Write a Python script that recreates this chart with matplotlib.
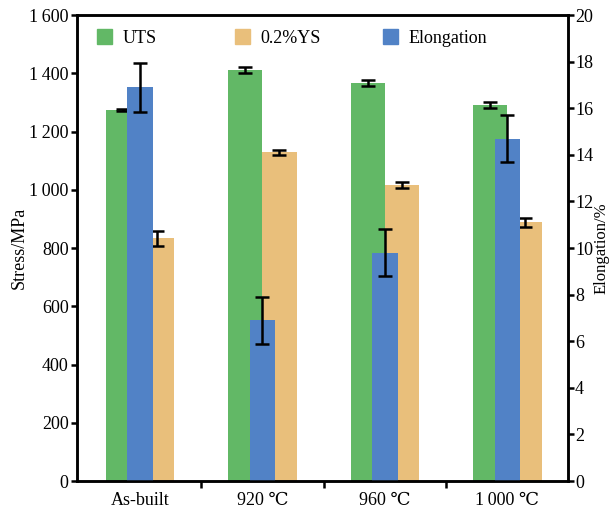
import matplotlib
matplotlib.use("Agg")
import matplotlib.pyplot as plt
import matplotlib.ticker as ticker
from matplotlib.patches import Patch
import numpy as np

### Data ###
groups = ["As-built", "920 \u2103", "960 \u2103", "1\u2009000 \u2103"]
uts = [1275, 1410, 1368, 1290]
uts_err = [4, 10, 10, 10]
ys = [833, 1128, 1017, 888]
ys_err = [27, 10, 10, 15]
elong = [16.9, 6.9, 9.8, 14.7]
elong_err = [1.05, 1.0, 1.0, 1.0]
legend_labels = ["UTS", "0.2%YS", "Elongation"]

green = "#62b866"
orange = "#e9bf7b"
blue = "#5182c6"

plt.rcParams["font.family"] = ["Liberation Serif", "DejaVu Serif"]
plt.rcParams["font.size"] = 13

### Plotting ###
fig = plt.figure(figsize=(6.13, 5.11), dpi=100)
ax = fig.add_axes([0.1256, 0.0587, 0.801, 0.9119])
ax2 = ax.twinx()

x = np.arange(len(groups))
w = 0.278
wb = 0.21
ekw = dict(ecolor="black", elinewidth=1.8, capsize=4.8, capthick=1.8)

ax.bar(x - w / 2, uts, w, color=green, yerr=uts_err, error_kw=ekw)
ax.bar(x + w / 2, ys, w, color=orange, yerr=ys_err, error_kw=ekw)
ax2.bar(x, elong, wb, color=blue, yerr=elong_err, error_kw=ekw)

ax.set_xlim(-0.514, 3.494)
ax.set_ylim(0, 1600)
ax2.set_ylim(0, 20)

ax.yaxis.set_major_locator(ticker.MultipleLocator(200))
ax.yaxis.set_major_formatter(ticker.FuncFormatter(
    lambda v, p: ("%d" % v) if v < 1000 else "%d\u2009%03d" % (v // 1000, v % 1000)))
ax2.yaxis.set_major_locator(ticker.MultipleLocator(2))

# group labels without tick marks, separator ticks between groups
ax.set_xticks(x)
ax.set_xticklabels(groups)
ax.tick_params(axis="x", which="major", length=0, pad=8)
ax.set_xticks([0.5, 1.5, 2.5], minor=True)
ax.tick_params(axis="x", which="minor", length=5, width=1.8, direction="out")
ax.tick_params(axis="y", length=4, width=1.8, direction="out", pad=2)
ax2.tick_params(axis="y", length=4, width=1.8, direction="out", pad=1)

for a in (ax, ax2):
    for s in a.spines.values():
        s.set_linewidth(1.8)

ax.set_ylabel("Stress/MPa", fontsize=13, labelpad=1)
ax2.set_ylabel("Elongation/%", fontsize=12, labelpad=0)

# three legend entries at fixed positions
entries = list(zip(legend_labels, [green, orange, blue], [0.041, 0.322, 0.623]))
for i, (lab, col, fx) in enumerate(entries):
    leg = ax2.legend(handles=[Patch(color=col, label=lab)], loc="center left",
                     bbox_to_anchor=(fx, 0.951), frameon=False, borderpad=0,
                     borderaxespad=0, handlelength=0.85, handleheight=0.85,
                     handletextpad=0.55)
    if i < len(entries) - 1:
        ax2.add_artist(leg)

plt.savefig("out.png", dpi=100)
